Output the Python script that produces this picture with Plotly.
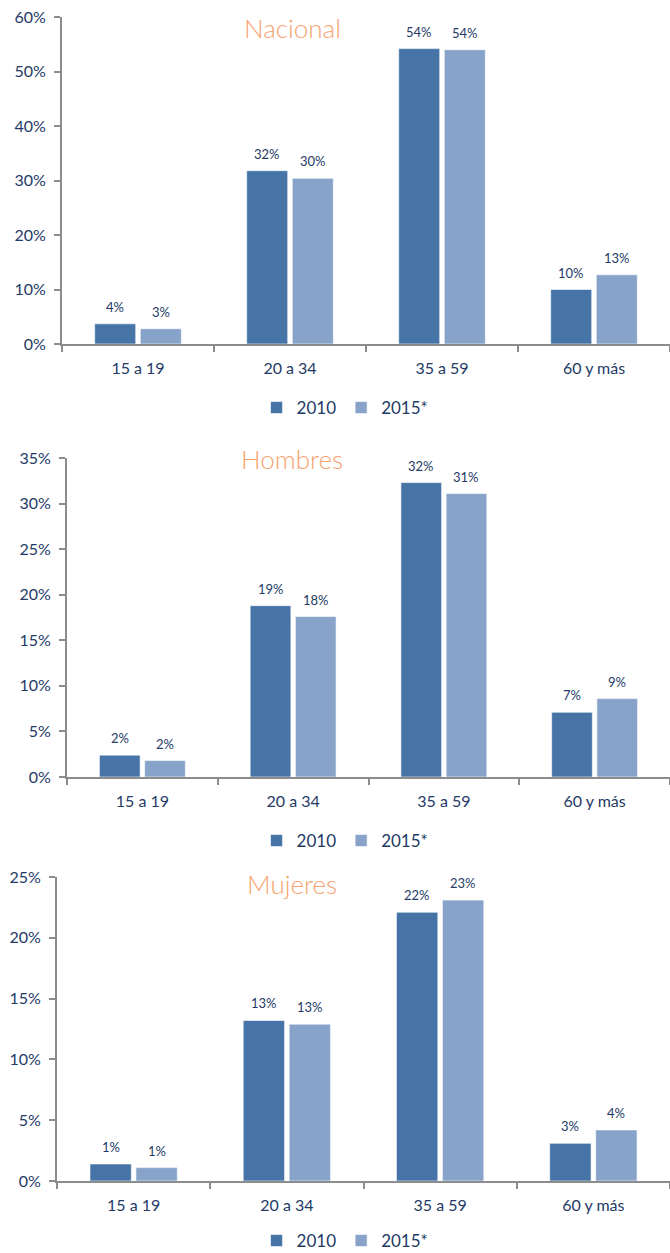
import plotly.graph_objects as go

categories = ["15 a 19", "20 a 34", "35 a 59", "60 y más"]
series_names = ["2010", "2015*"]

nacional_2010 = [0.037, 0.318, 0.542, 0.100]
nacional_2015 = [0.028, 0.304, 0.540, 0.127]
hombres_2010 = [0.024, 0.188, 0.323, 0.071]
hombres_2015 = [0.018, 0.176, 0.311, 0.086]
mujeres_2010 = [0.014, 0.132, 0.221, 0.031]
mujeres_2015 = [0.011, 0.129, 0.231, 0.042]

panel_titles = ["Nacional", "Hombres", "Mujeres"]
y_max = [0.60, 0.35, 0.25]
y_dtick = [0.10, 0.05, 0.05]

C2010 = "#4674A6"
C2015 = "#87A3C9"
TXT = "#243A66"
AXC = "#8C8C8C"
FONT = "Lato, Carlito, Calibri, sans-serif"

H = 1253.0
W = 670.0
BARGAP = 0.4

# pixel geometry of each panel (top px, bottom px, left px)
panels_px = [(17, 344, 62), (458, 777, 67), (877, 1181, 57)]
legend_px = [408, 841, 1241]
title_px = [28, 459, 884]

data = [(nacional_2010, nacional_2015), (hombres_2010, hombres_2015), (mujeres_2010, mujeres_2015)]

fig = go.Figure()
layout = dict(
    width=670, height=1253,
    margin=dict(l=0, r=0, t=0, b=0, pad=0, autoexpand=False),
    paper_bgcolor="white", plot_bgcolor="white",
    barmode="group", bargap=BARGAP, bargroupgap=0.1,
    font=dict(family=FONT, color=TXT),
    annotations=[],
)

for i, (v10, v15) in enumerate(data):
    n = "" if i == 0 else str(i + 1)
    xa, ya = "x" + n, "y" + n
    leg = "legend" + n
    top, bot, left = panels_px[i]
    cat_w = (W - left) / len(categories)
    half_slot = cat_w * (1 - BARGAP) / 4.0
    for k, (name, vals, col) in enumerate([(series_names[0], v10, C2010), (series_names[1], v15, C2015)]):
        fig.add_trace(go.Bar(
            x=categories, y=vals, name=name, xaxis=xa, yaxis=ya,
            marker=dict(color=col, line=dict(color="rgba(255,255,255,0.6)", width=1)),
            legend=leg, showlegend=True,
        ))
        sign = -1 if k == 0 else 1
        for c, v in zip(categories, vals):
            layout["annotations"].append(dict(
                x=c, y=v, xref=xa, yref=ya, text=f"{round(v * 100):.0f}%",
                showarrow=False, xanchor="center", yanchor="middle",
                xshift=sign * half_slot, yshift=17,
                font=dict(size=13, color=TXT, family=FONT),
            ))
    ydom = [1 - bot / H, 1 - top / H]
    layout["xaxis" + n] = dict(
        domain=[left / W, 1.0], anchor=ya, type="category",
        showline=True, linecolor=AXC, linewidth=2,
        ticks="outside", tickson="boundaries", ticklen=6, tickcolor=AXC, tickwidth=2,
        tickfont=dict(size=16, color=TXT), showgrid=False, zeroline=False,
        automargin=False, ticklabelstandoff=9,
    )
    layout["yaxis" + n] = dict(
        domain=ydom, anchor=xa, range=[0, y_max[i]], dtick=y_dtick[i],
        tickformat=".0%", showline=True, linecolor=AXC, linewidth=2,
        ticks="outside", ticklen=6, tickcolor=AXC, tickwidth=2,
        tickfont=dict(size=16, color=TXT), showgrid=False, zeroline=False,
        automargin=False, ticklabelstandoff=5,
    )
    layout[leg] = dict(
        orientation="h", x=0.515, xanchor="center",
        y=1 - legend_px[i] / H, yanchor="middle",
        font=dict(size=17, color=TXT), itemwidth=30,
        bgcolor="rgba(0,0,0,0)", traceorder="normal",
    )
    layout["annotations"].append(dict(
        text=panel_titles[i], xref="paper", yref="paper",
        x=292 / W, y=1 - title_px[i] / H, xanchor="center", yanchor="middle",
        showarrow=False, font=dict(size=26, color="#F5A26F", family=FONT, weight=300),
    ))

fig.update_layout(**layout)
fig.write_html(
    "out.html",
    config={"displayModeBar": False},
    post_script="document.body.style.margin='0';document.body.style.overflow='hidden';",
)
